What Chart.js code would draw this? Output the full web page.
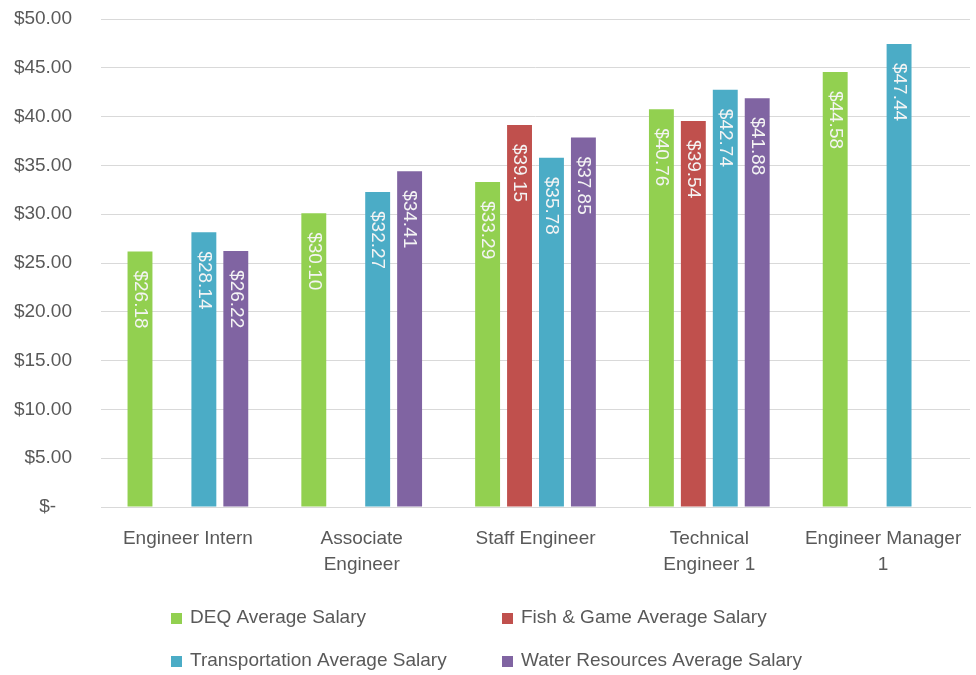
<!DOCTYPE html>
<html>
<head>
<meta charset="utf-8">
<script src="https://cdn.jsdelivr.net/npm/chart.js@4"></script>
<style>
  html, body { margin: 0; padding: 0; background: #fff; }
  #wrap { width: 976px; height: 675px; }
</style>
</head>
<body>
<div id="wrap"><canvas id="salary"></canvas></div>
<script>
// data
const categories = [
    'Engineer Intern',
    ['Associate', 'Engineer'],
    'Staff Engineer',
    ['Technical', 'Engineer 1'],
    ['Engineer Manager', '1']
];
const seriesNames = [
    'DEQ Average Salary',
    'Fish & Game Average Salary',
    'Transportation Average Salary',
    'Water Resources Average Salary'
];
const deqSalary = [26.18, 30.10, 33.29, 40.76, 44.58];
const fishGameSalary = [null, null, 39.15, 39.54, null];
const transportSalary = [28.14, 32.27, 35.78, 42.74, 47.44];
const waterSalary = [26.22, 34.41, 37.85, 41.88, null];
const yTicks = [0, 5, 10, 15, 20, 25, 30, 35, 40, 45, 50];

const colors = ['#92D050', '#C0504D', '#4BACC6', '#8064A2'];
const FONT = '"Liberation Sans", Arial, sans-serif';
const textGray = '#595959';

const money = v => v === 0 ? '$-   ' : '$' + v.toFixed(2);

// labels inside bars, rotated
const barLabels = {
    id: 'barLabels',
    afterDatasetsDraw(chart) {
        const ctx = chart.ctx;
        ctx.save();
        ctx.font = '19px ' + FONT;
        ctx.fillStyle = '#f4f4f4';
        ctx.textAlign = 'left';
        ctx.textBaseline = 'middle';
        chart.data.datasets.forEach((ds, i) => {
            chart.getDatasetMeta(i).data.forEach((bar, j) => {
                const v = ds.data[j];
                if (v == null) return;
                ctx.save();
                ctx.translate(bar.x, bar.y + 19);
                ctx.rotate(Math.PI / 2);
                ctx.fillText(money(v), 0, 0);
                ctx.restore();
            });
        });
        ctx.restore();
    }
};

// legend in two columns below the axis
const gridLegend = {
    id: 'gridLegend',
    afterDraw(chart) {
        const ctx = chart.ctx;
        const colX = [171, 502];
        const rowY = [618, 661];
        ctx.save();
        ctx.font = '19px ' + FONT;
        ctx.textAlign = 'left';
        ctx.textBaseline = 'middle';
        chart.data.datasets.forEach((ds, i) => {
            const x = colX[i % 2];
            const y = rowY[Math.floor(i / 2)];
            ctx.fillStyle = ds.backgroundColor;
            ctx.fillRect(x, y - 5, 11, 11);
            ctx.fillStyle = textGray;
            ctx.fillText(ds.label, x + 19, y);
        });
        ctx.restore();
    }
};

const createSalaryChart = () => {
    const ctx = document.getElementById('salary').getContext('2d');
    const values = [deqSalary, fishGameSalary, transportSalary, waterSalary];
    new Chart(ctx, {
        type: 'bar',
        data: {
            labels: categories,
            datasets: values.map((d, i) => ({
                label: seriesNames[i],
                data: d,
                backgroundColor: colors[i],
                borderWidth: 0,
                categoryPercentage: 0.735,
                barPercentage: 0.78
            }))
        },
        options: {
            responsive: true,
            maintainAspectRatio: false,
            animation: false,
            layout: { padding: { top: 19, right: 6, left: 0, bottom: 0 } },
            plugins: {
                legend: { display: false },
                tooltip: { enabled: false }
            },
            scales: {
                x: {
                    // invisible tick marks push the labels down
                    grid: { color: 'transparent', drawTicks: true, tickLength: 18, tickColor: 'transparent' },
                    border: { display: true, color: '#d9d9d9', width: 1 },
                    ticks: {
                        color: textGray,
                        font: { family: FONT, size: 19, lineHeight: 1.4 },
                        padding: 0,
                        maxRotation: 0,
                        autoSkip: false
                    },
                    afterFit(scale) { scale.height = 168; }
                },
                y: {
                    min: 0,
                    max: 50,
                    afterBuildTicks(scale) {
                        scale.ticks = yTicks.map(v => ({ value: v }));
                    },
                    grid: { color: '#d9d9d9', lineWidth: 1, drawTicks: true, tickLength: 29, tickColor: 'transparent' },
                    border: { display: false },
                    ticks: {
                        color: textGray,
                        font: { family: FONT, size: 19 },
                        padding: 0,
                        callback: v => money(v)
                    },
                    afterFit(scale) { scale.width = 101; }
                }
            }
        },
        plugins: [barLabels, gridLegend]
    });
};

document.addEventListener('DOMContentLoaded', () => {
    createSalaryChart();
});
</script>
</body>
</html>
